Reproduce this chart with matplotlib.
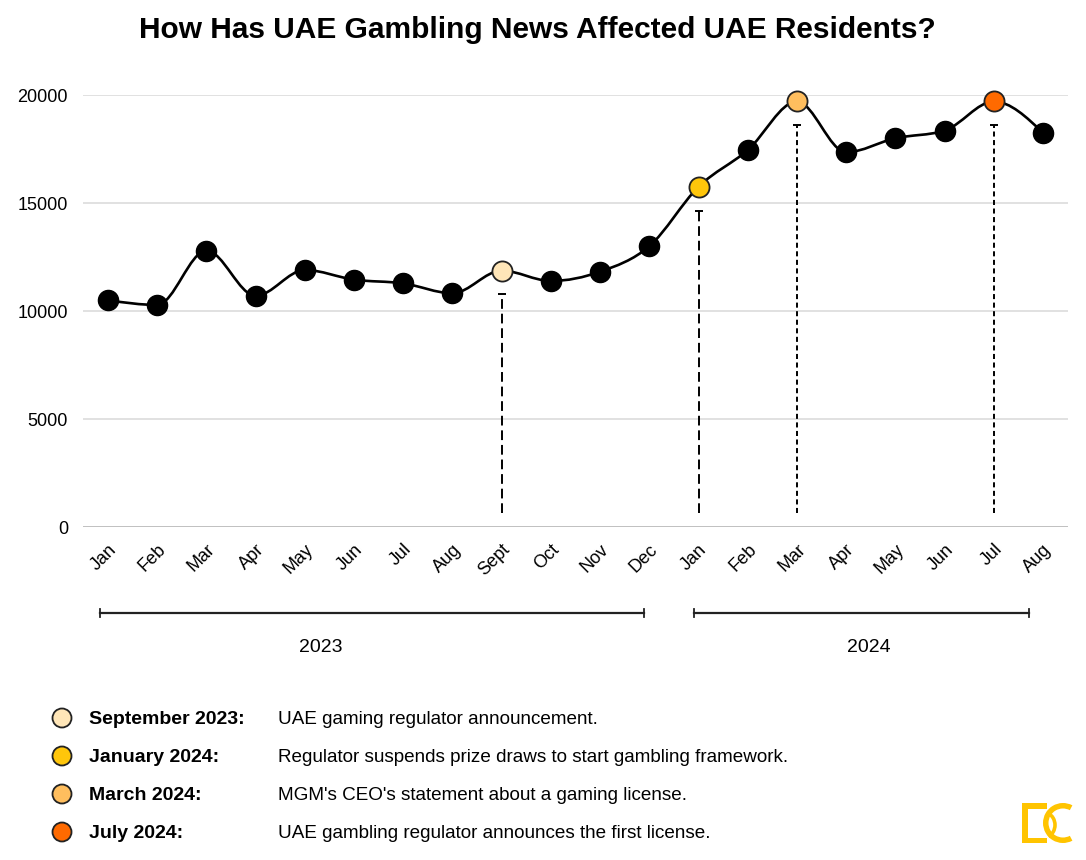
import numpy as np
import matplotlib
matplotlib.use("Agg")
import matplotlib.pyplot as plt
from matplotlib.path import Path
from matplotlib.patches import PathPatch, Rectangle, Wedge, Arc, Circle
from matplotlib.lines import Line2D
import matplotlib.transforms as mtransforms
from matplotlib import font_manager

# ---------------- data ----------------
months = ["Jan", "Feb", "Mar", "Apr", "May", "Jun", "Jul", "Aug", "Sept", "Oct", "Nov", "Dec",
          "Jan", "Feb", "Mar", "Apr", "May", "Jun", "Jul", "Aug"]
values = [10500, 10280, 12800, 10700, 11900, 11450, 11280, 10820, 11870, 11390, 11820, 13000,
          15750, 17450, 19700, 17350, 18000, 18350, 19700, 18250]
yticks = [0, 5000, 10000, 15000, 20000]
years = ["2023", "2024"]
event_idx = [8, 12, 14, 18]
event_colors = ["#FFE6B8", "#FFC60B", "#FFBE5E", "#FF6A00"]
event_labels = ["September 2023:", "January 2024:", "March 2024:", "July 2024:"]
event_texts = ["UAE gaming regulator announcement.",
               "Regulator suspends prize draws to start gambling framework.",
               "MGM's CEO's statement about a gaming license.",
               "UAE gambling regulator announces the first license."]

avail = {f.name for f in font_manager.fontManager.ttflist}
base = "Liberation Sans" if "Liberation Sans" in avail else "DejaVu Sans"
plt.rcParams["font.family"] = [base, "DejaVu Sans"]

W, H = 1086, 860
fig = plt.figure(figsize=(W / 100, H / 100), dpi=100)

# main axes: x from -0.5..19.5, y 0..20000
ax = fig.add_axes([83.4 / W, 1 - 527 / H, (1067.6 - 83.4) / W, (527 - 95) / H])
ax.set_xlim(-0.5, len(months) - 0.5)
ax.set_ylim(0, 20000)
for s in ax.spines.values():
    s.set_visible(False)
ax.set_yticks(yticks)
ax.set_yticklabels([str(v) for v in yticks], fontsize=13)
ax.tick_params(axis="y", length=0, pad=11, colors="black")
for v in yticks:
    ax.axhline(v, color="#b5b5b5" if v == 0 else "#dcdcdc", lw=1.2, zorder=0)

x = np.arange(len(values), dtype=float)
ax.set_xticks(x)
ax.set_xticklabels(months, fontsize=13, rotation=45, ha="right", va="top")
for lbl in ax.get_xticklabels():
    lbl.set_rotation_mode("anchor")
ax.tick_params(axis="x", length=0, pad=10)

# monotone-x cubic (Steffen) curve through the points
y = np.array(values, dtype=float)
n = len(x)
h = np.diff(x)
s = np.diff(y) / h
t = np.zeros(n)
for i in range(1, n - 1):
    p = (s[i - 1] * h[i] + s[i] * h[i - 1]) / (h[i - 1] + h[i])
    t[i] = (np.sign(s[i - 1]) + np.sign(s[i])) * min(abs(s[i - 1]), abs(s[i]), 0.5 * abs(p))
t[0] = (3 * s[0] - t[1]) / 2
t[-1] = (3 * s[-1] - t[-2]) / 2
verts = [(x[0], y[0])]
codes = [Path.MOVETO]
for i in range(n - 1):
    d = h[i] / 3
    verts += [(x[i] + d, y[i] + d * t[i]), (x[i + 1] - d, y[i + 1] - d * t[i + 1]), (x[i + 1], y[i + 1])]
    codes += [Path.CURVE4] * 3
ax.add_patch(PathPatch(Path(verts, codes), fill=False, lw=1.9, color="black", zorder=3,
                       capstyle="round", joinstyle="round"))

# markers
for i in range(n):
    if i in event_idx:
        c = event_colors[event_idx.index(i)]
        ax.plot(x[i], y[i], "o", ms=14.5, mfc=c, mec="#222222", mew=1.3, zorder=5, clip_on=False)
    else:
        ax.plot(x[i], y[i], "o", ms=14.5, mfc="black", mec="black", mew=1, zorder=4, clip_on=False)

# dashed drop lines
dash_styles = [(0, (5, 2.5)), (0, (5, 2.5)), (0, (2.6, 1.8)), (0, (2.6, 1.8))]
for k, i in enumerate(event_idx):
    top = y[i] - 1100
    ax.plot([x[i], x[i]], [650, top], color="black", lw=1.4, ls=dash_styles[k], zorder=2)
    ax.plot(x[i], top, marker="_", ms=6, mew=1.4, color="black", zorder=2)

# year brackets (x in data, y in figure)
trans = mtransforms.blended_transform_factory(ax.transData, fig.transFigure)
yb = 1 - 613 / H
cap = 4 / H
for (x0, x1) in [(-0.16, 10.9), (11.9, 18.72)]:
    fig.add_artist(Line2D([x0, x1], [yb, yb], transform=trans, color="#222222", lw=1.6))
    for xx in (x0, x1):
        fig.add_artist(Line2D([xx, xx], [yb - cap, yb + cap], transform=trans, color="#222222", lw=1.3))
fig.text(4.33, 1 - 648 / H, years[0], transform=trans, fontsize=14, ha="center", va="center")
fig.text(15.47, 1 - 648 / H, years[1], transform=trans, fontsize=14, ha="center", va="center")

# title
fig.text(537 / W, 1 - 30 / H, "How Has UAE Gambling News Affected UAE Residents?",
         fontsize=21.5, fontweight="bold", ha="center", va="center")

# overlay in pixel coords for legend markers and logo
ov = fig.add_axes([0, 0, 1, 1], zorder=-1)
ov.set_xlim(0, W)
ov.set_ylim(H, 0)
ov.axis("off")
ov.patch.set_alpha(0)
leg_y = [718, 756, 794, 832]
for k in range(4):
    ov.add_patch(Circle((62, leg_y[k]), 9.5, facecolor=event_colors[k], edgecolor="#222222", lw=1.3))
    fig.text(89 / W, 1 - (leg_y[k] + 6) / H, event_labels[k], fontsize=14, fontweight="bold",
             ha="left", va="baseline")
    fig.text(278 / W, 1 - (leg_y[k] + 6) / H, event_texts[k], fontsize=13.6,
             ha="left", va="baseline")

# logo
gold = "#FFC400"
ov.add_patch(Rectangle((1022, 803), 5.5, 40, color=gold, lw=0))
ov.add_patch(Rectangle((1022, 803), 25, 5.5, color=gold, lw=0))
ov.add_patch(Rectangle((1022, 837.5), 25, 5.5, color=gold, lw=0))
ov.add_patch(Wedge((1063, 823), 20, 62, 298, width=5.5, color=gold, lw=0))
ov.add_patch(Arc((1043, 825), 24, 26, theta1=-65, theta2=65, color=gold, lw=2.6))

fig.savefig("out.png", dpi=100, facecolor="white")
